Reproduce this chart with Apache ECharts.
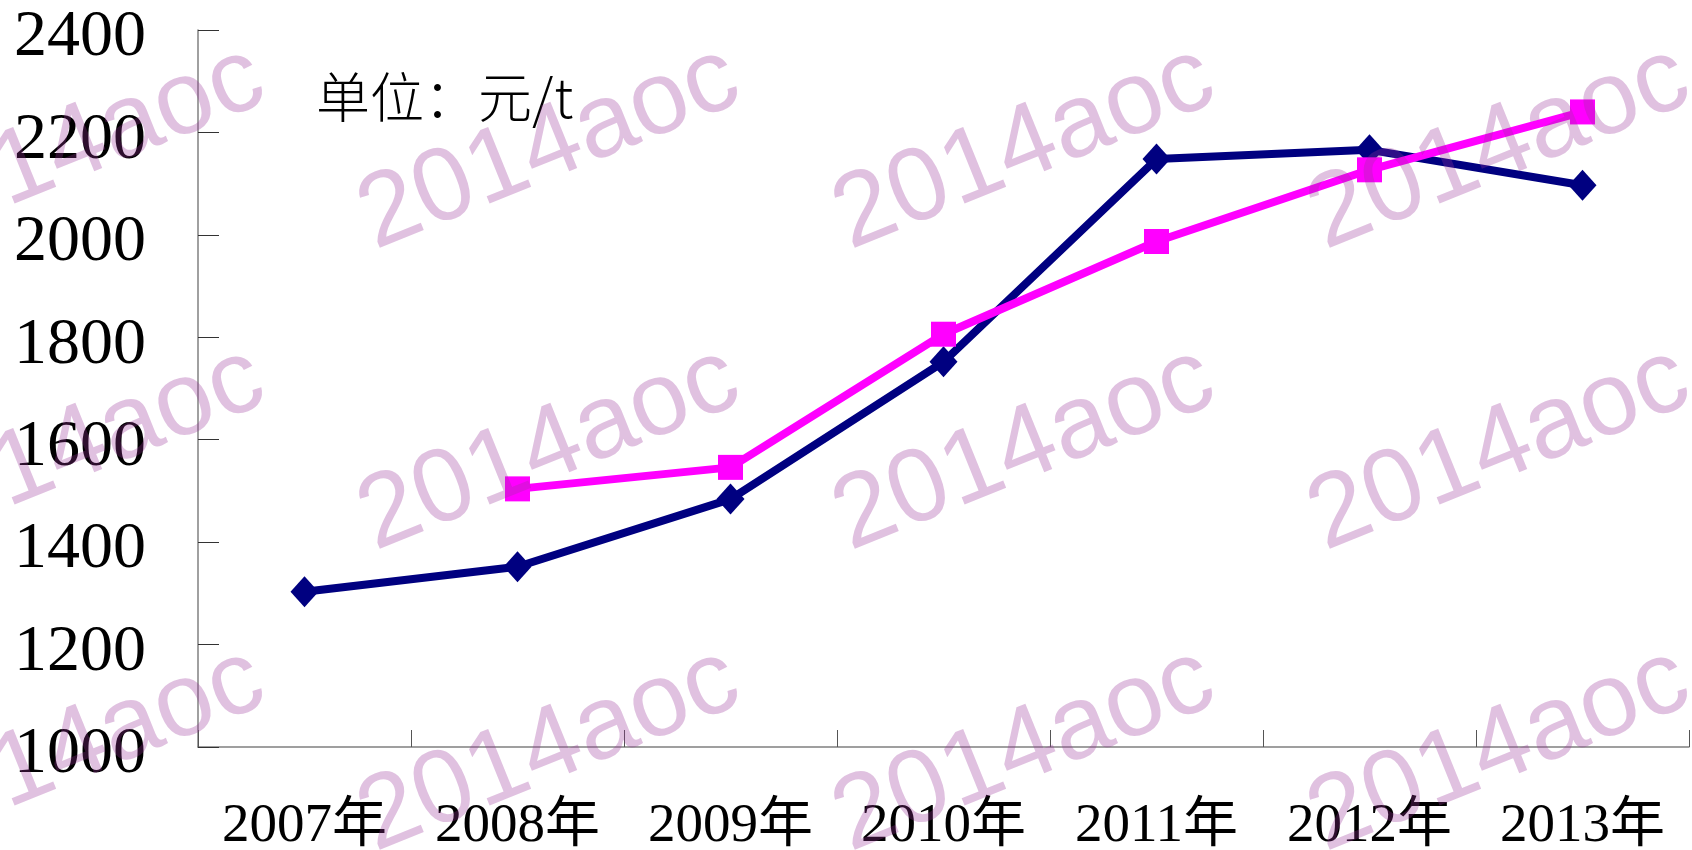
<!DOCTYPE html>
<html>
<head>
<meta charset="utf-8">
<script src="https://cdn.jsdelivr.net/npm/echarts@6/dist/echarts.min.js"></script>
<style>
  html, body { margin: 0; padding: 0; background: #fff; }
  #chart { width: 1692px; height: 850px; }
</style>
</head>
<body>
<div id="chart"></div>
<script>
// data
const years = ["2007年", "2008年", "2009年", "2010年", "2011年", "2012年", "2013年"];
const navySeries = [1303, 1352, 1484, 1752, 2148, 2166, 2097];
const pinkSeries = [null, 1504, 1546, 1806, 1987, 2127, 2240];
const yTicks = [1000, 1200, 1400, 1600, 1800, 2000, 2200, 2400];
const unitText = "单位：元/t";
const markText = "2014aoc";

const chart = echarts.init(document.getElementById("chart"));

// watermark tiles (baseline-left anchors), rotated ~22deg
const markCols = [-98, 377, 852, 1327];
const markRows = [255, 556, 857];
const angle = 22 * Math.PI / 180;
const markFont = 104;
const marks = [];
markRows.forEach(function (y) {
  markCols.forEach(function (x) {
    const up = markFont * 0.33;
    marks.push({
      type: "text",
      x: x - Math.sin(angle) * up,
      y: y - Math.cos(angle) * up,
      rotation: angle,
      z: 100,
      silent: true,
      style: {
        text: markText,
        font: markFont + "px 'Liberation Sans', Arial, sans-serif",
        fill: "rgba(153, 51, 153, 0.3)",
        align: "left",
        verticalAlign: "middle"
      }
    });
  });
});

const serif = "'Liberation Serif', 'Noto Sans CJK SC', serif";

const option = {
  animation: false,
  backgroundColor: "#fff",
  grid: { left: 198, top: 30, right: 3, bottom: 103, containLabel: false, outerBoundsMode: "none" },
  xAxis: {
    type: "category",
    data: years,
    boundaryGap: true,
    axisLine: { lineStyle: { color: "#808080", width: 1.5 } },
    axisTick: { show: true, inside: true, length: 17, lineStyle: { color: "#555", width: 1 } },
    axisLabel: { color: "#000", fontSize: 55, fontFamily: serif, margin: 52, interval: 0 }
  },
  yAxis: {
    type: "value",
    min: yTicks[0],
    max: yTicks[yTicks.length - 1],
    interval: yTicks[1] - yTicks[0],
    splitLine: { show: false },
    axisLine: { show: true, lineStyle: { color: "#808080", width: 1.5 } },
    axisTick: { show: true, inside: true, length: 21, lineStyle: { color: "#333", width: 1 } },
    axisLabel: {
      margin: 52,
      formatter: function (v) { return "{n|" + v + "}"; },
      rich: {
        n: { color: "#000", fontSize: 66, fontFamily: serif, padding: [16, 0, 0, 0] }
      }
    }
  },
  series: [
    {
      type: "line",
      data: navySeries,
      color: "#000080",
      lineStyle: { width: 8, color: "#000080" },
      symbol: "diamond",
      symbolSize: [28, 31],
      itemStyle: { color: "#000080" }
    },
    {
      type: "line",
      data: pinkSeries,
      color: "#ff00ff",
      lineStyle: { width: 8, color: "#ff00ff" },
      symbol: "rect",
      symbolSize: [25, 25],
      itemStyle: { color: "#ff00ff" }
    }
  ],
  graphic: [
    {
      type: "text",
      left: 316,
      top: 70,
      z: 50,
      style: {
        text: unitText,
        font: "300 54px 'Noto Sans CJK SC', sans-serif",
        fill: "#000"
      }
    }
  ].concat(marks)
};

chart.setOption(option);
</script>
</body>
</html>
